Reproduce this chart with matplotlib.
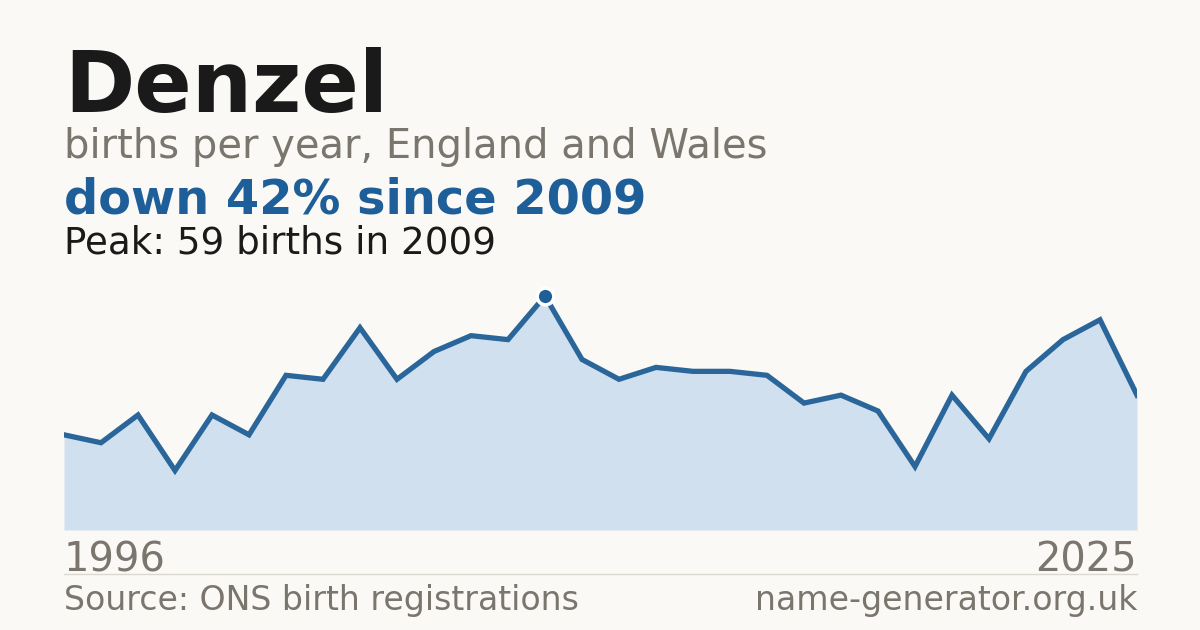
import matplotlib.pyplot as plt

years = list(range(1996, 2026))
births = [24, 22, 29, 15, 29, 24, 39, 38, 51, 38, 45, 49, 48, 59, 43, 38, 41, 40, 40, 39,
          32, 34, 30, 16, 34, 23, 40, 48, 53, 34]
name = 'Denzel'
peak_year = 2009
peak_value = 59

bg = '#faf9f5'
blue = '#2a6699'
gray = '#7a756d'

W, H = 1200, 630
fig = plt.figure(figsize=(12, 6.3), dpi=100, facecolor=bg)

# plot area: x 64..1137 px, baseline at y=530, peak at y=296
ax = fig.add_axes([64 / W, (H - 530) / H, (1137 - 64) / W, 234 / H])
ax.set_facecolor(bg)
ax.fill_between(years, births, 0, color='#d0e0ef', lw=0)
ax.plot(years, births, color=blue, lw=3.8, solid_joinstyle='miter')
ax.plot([peak_year], [peak_value], 'o', ms=12, color='#1f5f99', mec='white', mew=2.5,
        clip_on=False, zorder=5)
ax.set_xlim(years[0], years[-1])
ax.set_ylim(0, peak_value)
ax.axis('off')
ax.axhline(0, color='#e3ddd2', lw=1)


def label(x, y, s, size, color, **kw):
    fig.text(x / W, 1 - y / H, s, fontsize=size, color=color, va='baseline', **kw)


label(64, 112, name, 61, '#1a1a1a', fontweight='bold')
label(64, 158, 'births per year, England and Wales', 28.8, gray)
label(64, 214, 'down 42% since 2009', 34.5, '#1f5f99', fontweight='bold')
label(64, 253, 'Peak: 59 births in 2009', 26.8, '#1a1a1a')

label(64, 571, str(years[0]), 28.8, gray)
label(1137, 571, str(years[-1]), 28.8, gray, ha='right')

fig.add_artist(plt.Line2D([64 / W, 1137 / W], [1 - 574 / H, 1 - 574 / H], color='#dcd8d0', lw=1))
label(64, 610, 'Source: ONS birth registrations', 23.9, gray)
label(1137, 610, 'name-generator.org.uk', 23.9, gray, ha='right')

fig.savefig('out.png', dpi=100, facecolor=bg)
